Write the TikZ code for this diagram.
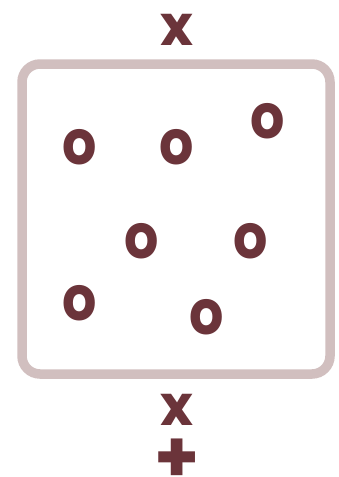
\documentclass[tikz,border=0pt]{standalone}
\usepackage{fontspec}
\setmainfont{Poppins}
\usepackage{tikz}
\usepackage{xcolor}
\definecolor{maroon}{HTML}{6B343A}
\definecolor{frame}{HTML}{D1BFBF}

\begin{document}
\begin{tikzpicture}[x=1pt,y=-1pt, every node/.style={text=maroon,font=\fontsize{56}{56}\selectfont\bfseries,inner sep=0pt},
    dot/.style={font=\fontsize{62}{62}\selectfont\bfseries,xscale=0.87}]
    \useasboundingbox (0,0) rectangle (338,477);
    \draw[frame,line width=9.5pt,rounded corners=18pt] (22,64) rectangle (330,374);

    \node (x1)       at (177,30)  {x};
    \node[dot] (o1)  at (80,147)  {o};
    \node[dot] (o2)  at (177,147) {o};
    \node[dot] (o3)  at (268,121) {o};
    \node[dot] (o4)  at (142,241) {o};
    \node[dot] (o5)  at (251,241) {o};
    \node[dot] (o6)  at (80,303)  {o};
    \node[dot] (o7)  at (207,317) {o};
    \node (x2)       at (177,410) {x};
    \node[font=\fontsize{72}{72}\selectfont\bfseries] (plus) at (177,461) {+};
\end{tikzpicture}
\end{document}
